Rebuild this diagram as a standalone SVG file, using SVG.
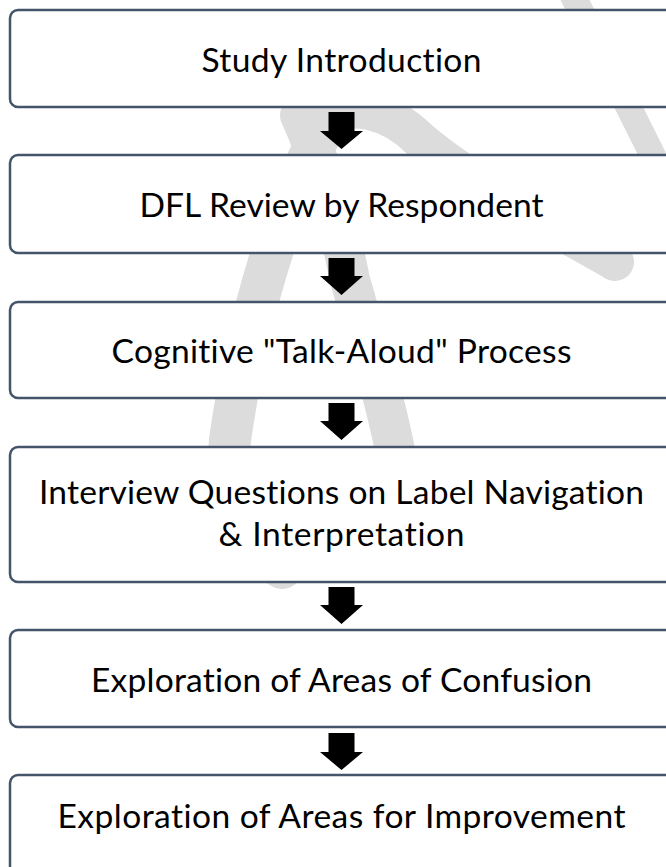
<svg xmlns="http://www.w3.org/2000/svg" width="666" height="867" viewBox="0 0 666 867">
  <style>
    .box { fill: #ffffff; stroke: #44546A; stroke-width: 2.5; }
    .lbl { font-family: Lato, "Liberation Sans", sans-serif; font-size: 33.6px; fill: #000000; text-anchor: middle; font-variant-ligatures: none; font-feature-settings: "liga" 0, "clig" 0; }
    .arrow { fill: #000000; }
    .wm { fill: none; stroke: #dcdcdc; stroke-linecap: round; }
  </style>
  <rect width="666" height="867" fill="#ffffff"/>
  <g id="watermark">
    <path class="wm" stroke-width="42" d="M 335 110 C 290 180 250 300 230 440 C 225 500 250 550 282 568"/>
    <path class="wm" stroke-width="40" d="M 300 115 C 325 170 340 230 350 280 C 370 350 385 400 395 450"/>
    <path class="wm" stroke-width="38" d="M 320 120 C 350 100 390 110 420 140 C 480 190 560 230 615 262"/>
    <path class="wm" stroke-width="26" d="M 570 -10 C 600 50 630 110 670 190"/>
  </g>
  <g id="connectors">
    <polygon class="arrow" points="328.5,112 354.5,112 354.5,131 363,131 341.5,149 320,131 328.5,131"/>
    <polygon class="arrow" points="328.5,258 354.5,258 354.5,276 363,276 341.5,295 320,276 328.5,276"/>
    <polygon class="arrow" points="328.5,403 354.5,403 354.5,421 363,421 341.5,440 320,421 328.5,421"/>
    <polygon class="arrow" points="328.5,587 354.5,587 354.5,605 363,605 341.5,624 320,605 328.5,605"/>
    <polygon class="arrow" points="328.5,733 354.5,733 354.5,752 363,752 341.5,770 320,752 328.5,752"/>
  </g>
  <g id="node1">
    <rect class="box" x="10" y="10" width="663" height="97" rx="8"/>
    <text class="lbl" x="341.5" y="71.5" textLength="280">Study Introduction</text>
  </g>
  <g id="node2">
    <rect class="box" x="10" y="155" width="663" height="98" rx="8"/>
    <text class="lbl" x="341.5" y="217" textLength="404">DFL Review by Respondent</text>
  </g>
  <g id="node3">
    <rect class="box" x="10" y="302" width="663" height="96" rx="8"/>
    <text class="lbl" x="341.5" y="363" textLength="460">Cognitive "Talk-Aloud" Process</text>
  </g>
  <g id="node4">
    <rect class="box" x="10" y="447" width="663" height="135" rx="8"/>
    <text class="lbl" x="341.5" y="504" textLength="605">Interview Questions on Label Navigation</text>
    <text class="lbl" x="341.5" y="546" textLength="246">&amp; Interpretation</text>
  </g>
  <g id="node5">
    <rect class="box" x="10" y="630" width="663" height="97" rx="8"/>
    <text class="lbl" x="341.5" y="692" textLength="501">Exploration of Areas of Confusion</text>
  </g>
  <g id="node6">
    <rect class="box" x="10" y="775" width="663" height="110" rx="8"/>
    <text class="lbl" x="341.5" y="828" textLength="568">Exploration of Areas for Improvement</text>
  </g>
</svg>
